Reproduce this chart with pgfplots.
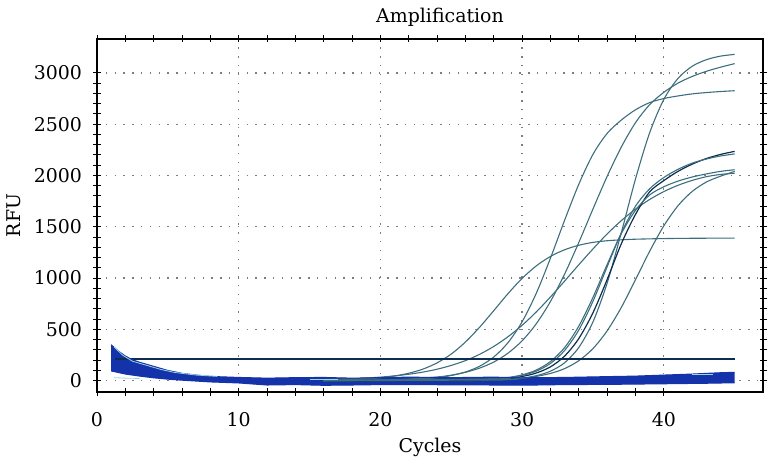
\documentclass[border=0pt]{standalone}
\usepackage{fontspec}
\setmainfont{DejaVu Serif}
\usepackage{pgfplots}
\pgfplotsset{compat=1.18}
\usepgfplotslibrary{fillbetween}
\definecolor{band}{RGB}{20,50,170}
\definecolor{bandedge}{RGB}{150,215,225}
\definecolor{amp}{RGB}{60,110,125}
\definecolor{thr}{RGB}{12,45,80}
\definecolor{gridc}{RGB}{125,125,125}
\begin{document}
\begin{tikzpicture}
\begin{axis}[
  scale only axis, width=666bp, height=353bp,
  xmin=0, xmax=47, ymin=-110, ymax=3330,
  xtick={0,10,20,30,40}, ytick={0,500,1000,1500,2000,2500,3000},
  minor x tick num=4, minor y tick num=4,
  tick align=center, major tick length=7bp, minor tick length=7bp,
  every tick/.style={black, line width=1bp},
  axis line style={line width=1.5bp},
  grid=major,
  major grid style={gridc, line width=1.3bp, dash pattern=on 1.3bp off 7.5bp},
  title=Amplification, xlabel=Cycles, ylabel=RFU,
  tick label style={font=\fontsize{19}{22}\selectfont},
  xticklabel style={yshift=-13bp},
  yticklabel style={xshift=-8bp},
  label style={font=\fontsize{19}{22}\selectfont},
  title style={font=\fontsize{19}{22}\selectfont, at={(axis description cs:0.5,1)}, anchor=center, yshift=16bp, xshift=10bp},
  xlabel style={at={(axis description cs:0.5,0)}, anchor=center, yshift=-55bp},
  ylabel style={at={(axis description cs:-0.125,0.5)}, anchor=center},
  /pgf/number format/assume math mode=true,
  /pgf/number format/set thousands separator={},
]
% amplification curves
\addplot[amp, line width=1.1bp, smooth] coordinates {(16,5) (18,11) (19,18) (20,29) (21,46) (22,73) (23,113) (24,174) (25,260) (26,377) (27,521) (28,683) (29,848) (30,997) (31,1119) (32,1211) (33,1276) (34,1320) (35,1348) (36,1364) (37,1373) (38,1379) (40,1385) (42,1388) (45,1390)};
\addplot[amp, line width=1.1bp, smooth] coordinates {(16,12) (18,19) (19,26) (20,35) (21,47) (22,63) (23,84) (24,112) (25,149) (26,196) (27,257) (28,334) (29,428) (30,540) (31,670) (32,816) (33,971) (34,1130) (35,1284) (36,1430) (37,1560) (38,1672) (39,1766) (40,1843) (41,1904) (42,1952) (43,1988) (44,2010) (45,2022)};
\addplot[amp, line width=1.1bp, smooth] coordinates {(16,0) (20,4) (22,11) (24,30) (25,51) (26,85) (27,141) (28,231) (29,370) (30,574) (31,852) (32,1194) (33,1564) (34,1914) (35,2206) (36,2410) (37,2540) (38,2640) (39,2710) (40,2750) (41,2775) (42,2795) (43,2808) (44,2818) (45,2826)};
\addplot[amp, line width=1.1bp, smooth] coordinates {(16,0) (20,7) (22,16) (24,36) (25,54) (26,82) (27,123) (28,182) (29,268) (30,389) (31,555) (32,772) (33,1039) (34,1347) (35,1673) (36,1991) (37,2277) (38,2514) (39,2690) (40,2810) (41,2900) (42,2965) (43,3015) (44,3055) (45,3090)};
\addplot[amp, line width=1.1bp, smooth] coordinates {(16,0) (26,2) (28,7) (29,13) (30,25) (31,49) (32,93) (33,175) (34,324) (35,573) (36,951) (37,1442) (38,1965) (39,2416) (40,2741) (41,2946) (42,3064) (43,3128) (44,3163) (45,3180)};
\addplot[thr, line width=1.2bp, smooth] coordinates {(16,0) (26,3) (28,12) (29,22) (30,41) (31,75) (32,135) (33,240) (34,411) (35,662) (36,985) (37,1334) (38,1620) (39,1840) (40,1950) (41,2040) (42,2110) (43,2165) (44,2205) (45,2235)};
\addplot[amp, line width=1.1bp, smooth] coordinates {(16,0) (28,15) (29,28) (30,51) (31,93) (32,168) (33,295) (34,494) (35,774) (36,1110) (37,1440) (38,1700) (39,1870) (40,1980) (41,2060) (42,2120) (43,2160) (44,2190) (45,2210)};
\addplot[amp, line width=1.1bp, smooth] coordinates {(16,0) (28,17) (29,31) (30,57) (31,104) (32,187) (33,323) (34,532) (35,812) (36,1132) (37,1434) (38,1660) (39,1810) (40,1890) (41,1945) (42,1985) (43,2015) (44,2040) (45,2056)};
\addplot[amp, line width=1.1bp, smooth] coordinates {(16,0) (28,8) (30,24) (31,42) (32,71) (33,118) (34,195) (35,313) (36,486) (37,714) (38,984) (39,1261) (40,1509) (41,1705) (42,1844) (43,1936) (44,1993) (45,2040)};
% threshold
\addplot[thr, line width=2bp] coordinates {(1.3,212) (45,212)};
% baseline band
\addplot[name path=up, band, line width=1bp] coordinates {(1,350) (1.5,290) (2,240) (2.5,205) (3,180) (4,140) (5,100) (6,72) (7,55) (8,42) (10,32) (12,25) (14,30) (16,32) (18,25) (20,30) (22,35) (25,30) (28,35) (30,28) (33,32) (36,40) (38,45) (40,55) (42,65) (44,78) (45,82)};
\addplot[name path=lo, band, line width=1bp] coordinates {(1,95) (2,65) (3,45) (4,28) (5,15) (6,5) (8,-12) (10,-22) (12,-42) (14,-38) (16,-45) (18,-42) (20,-38) (22,-38) (25,-40) (28,-42) (30,-44) (33,-38) (36,-36) (40,-30) (43,-25) (45,-20)};
\addplot[band] fill between[of=up and lo];
\addplot[bandedge, line width=0.8bp] coordinates {(1.2,330) (1.8,250) (2.5,190) (3.5,150) (4.5,110) (5.5,80) (7,55) (8.5,42)};
\addplot[bandedge, line width=0.8bp] coordinates {(1.2,30) (2,25) (3,22)};
\addplot[bandedge, line width=1bp] coordinates {(15,12) (17,12)};
\addplot[bandedge, line width=1bp] coordinates {(42,60) (43.5,60)};
\end{axis}
\pgfresetboundingbox
\path[use as bounding box] ([xshift=-97bp,yshift=-79bp]current axis.south west) rectangle ([xshift=13bp,yshift=39bp]current axis.north east);
\end{tikzpicture}
\end{document}
